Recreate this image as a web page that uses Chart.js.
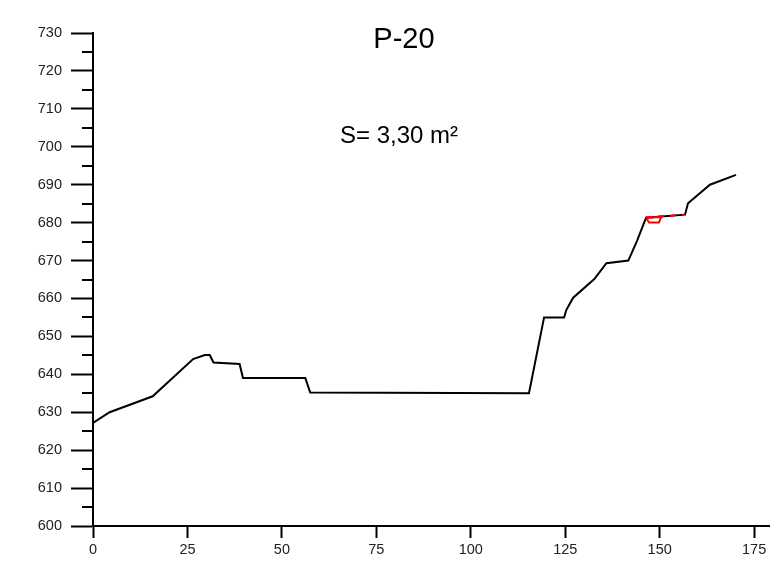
<!DOCTYPE html>
<html lang="en">
<head>
    <meta charset="UTF-8">
    <title>P-20</title>
    <script src="https://cdn.jsdelivr.net/npm/chart.js"></script>
    <style>
        body { margin: 0; background: #fff; }
        #chart-container { width: 770px; height: 562px; }
        canvas { display: block; }
    </style>
</head>
<body>

<div id="chart-container">
    <canvas id="profileChart" width="770" height="562"></canvas>
</div>

<script>
    // Ground profile (distance, elevation)
    const profileX = [0, 4.4, 15.8, 26.5, 29.6, 30.9, 31.9, 38.8, 39.7, 56.2, 57.5, 115.4, 119.4, 124.7, 125.3, 127.1, 132.7, 135.9, 141.7, 144.0, 146.4, 156.7, 157.5, 163.3, 170.2];
    const profileY = [627.2, 630.0, 634.2, 644.0, 645.1, 645.1, 643.1, 642.7, 639.0, 639.0, 635.2, 635.0, 655.0, 655.0, 657.0, 660.2, 665.1, 669.3, 670.0, 675.2, 681.3, 682.1, 685.1, 690.0, 692.6];

    // Water level line (red dashed)
    const waterX = [146.4, 156.7];
    const waterY = [681.4, 682.1];

    // Wetted area outline (red)
    const areaX = [146.4, 147.2, 149.8, 150.4, 146.4];
    const areaY = [681.3, 680.0, 680.0, 681.5, 681.3];

    const xTicks = [0, 25, 50, 75, 100, 125, 150, 175];
    const yMinorTicks = [605, 615, 625, 635, 645, 655, 665, 675, 685, 695, 705, 715, 725];

    const titleText = 'P-20';
    const areaText = 'S= 3,30 m²';

    const toPoints = (xs, ys) => xs.map((x, i) => ({ x: x, y: ys[i] }));

    // minor ticks on the y axis + the two text labels
    const extras = {
        id: 'extras',
        afterDraw(chart) {
            const ctx = chart.ctx;
            const y = chart.scales.y;
            ctx.save();
            ctx.strokeStyle = '#000';
            ctx.lineWidth = 2;
            yMinorTicks.forEach(v => {
                const py = Math.round(y.getPixelForValue(v));
                ctx.beginPath();
                ctx.moveTo(y.right - 11, py);
                ctx.lineTo(y.right, py);
                ctx.stroke();
            });
            ctx.fillStyle = '#000';
            ctx.textAlign = 'center';
            ctx.textBaseline = 'alphabetic';
            ctx.font = '29px "Liberation Sans", Arial, sans-serif';
            ctx.fillText(titleText, 404, 48);
            ctx.font = '24px "Liberation Sans", Arial, sans-serif';
            ctx.fillText(areaText, 399, 143);
            ctx.restore();
        }
    };

    const ctx = document.getElementById('profileChart').getContext('2d');
    const chart = new Chart(ctx, {
        type: 'scatter',
        data: {
            datasets: [
                {
                    label: 'water',
                    data: toPoints(waterX, waterY),
                    showLine: true,
                    borderColor: '#ff0000',
                    borderWidth: 2,
                    borderDash: [6, 6],
                    pointRadius: 0,
                    order: 0
                },
                {
                    label: 'area',
                    data: toPoints(areaX, areaY),
                    showLine: true,
                    borderColor: '#ff0000',
                    borderWidth: 2,
                    pointRadius: 0,
                    order: 1
                },
                {
                    label: 'profile',
                    data: toPoints(profileX, profileY),
                    showLine: true,
                    borderColor: '#000',
                    borderWidth: 2,
                    pointRadius: 0,
                    order: 2
                }
            ]
        },
        options: {
            responsive: false,
            animation: false,
            layout: { padding: { top: 33, right: 0, bottom: 0, left: 0 } },
            plugins: {
                legend: { display: false },
                tooltip: { enabled: false }
            },
            scales: {
                x: {
                    type: 'linear',
                    min: 0,
                    max: 179.2,
                    afterBuildTicks: s => { s.ticks = xTicks.map(v => ({ value: v })); },
                    afterFit: s => { s.height = 36; },
                    border: { display: true, color: '#000', width: 2 },
                    grid: { drawOnChartArea: false, tickLength: 12, tickWidth: 2, tickColor: '#000' },
                    ticks: {
                        color: '#222',
                        padding: 3,
                        maxRotation: 0,
                        font: { family: '"Liberation Sans", Arial, sans-serif', size: 14.5 }
                    }
                },
                y: {
                    type: 'linear',
                    min: 600,
                    max: 730,
                    afterFit: s => { s.width = 93; },
                    border: { display: true, color: '#000', width: 2 },
                    grid: { drawOnChartArea: false, tickLength: 22, tickWidth: 2, tickColor: '#000' },
                    ticks: {
                        stepSize: 10,
                        color: '#222',
                        padding: 9,
                        font: { family: '"Liberation Sans", Arial, sans-serif', size: 14.5 }
                    }
                }
            }
        },
        plugins: [extras]
    });
</script>

</body>
</html>
